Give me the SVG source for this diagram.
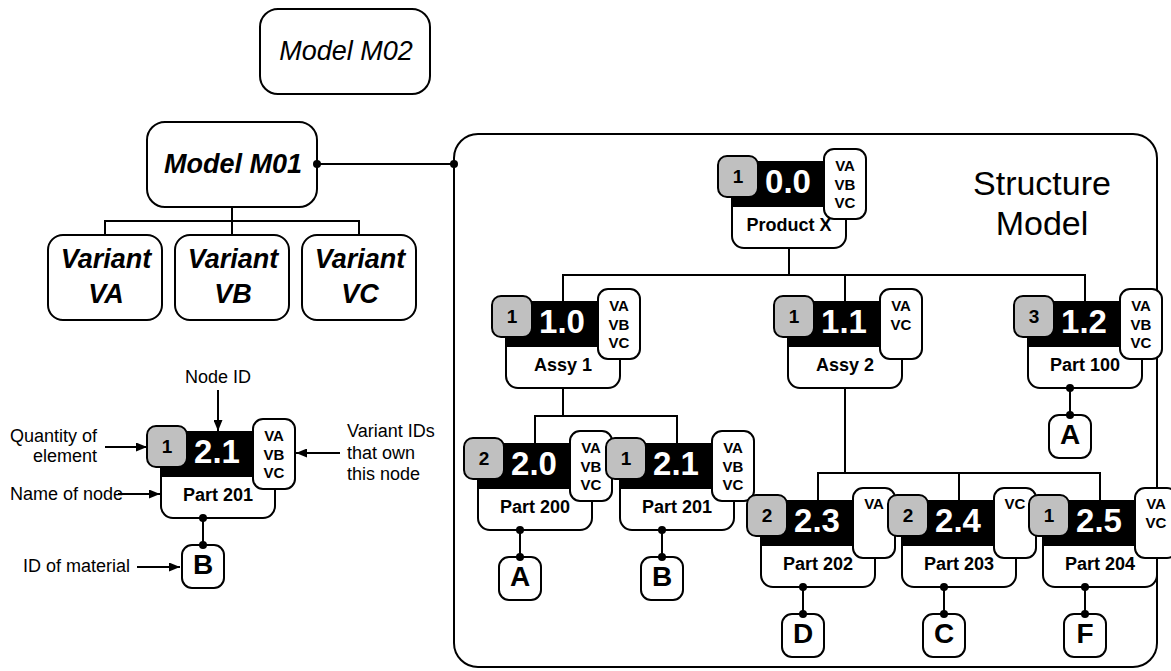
<svg xmlns="http://www.w3.org/2000/svg" width="1171" height="671" viewBox="0 0 1171 671">
<style>
.box{fill:#fff;stroke:#000;stroke-width:2}
.qty{fill:#c0c0c0;stroke:#000;stroke-width:2}
.bar{fill:#000}
.ln{stroke:#000;stroke-width:2;fill:none}
.dot{fill:#000}
text{font-family:"Liberation Sans",Arial,sans-serif;fill:#000}
.mt{font-size:27px;font-style:italic;text-anchor:middle}
.mtb{font-size:27px;font-style:italic;font-weight:bold;text-anchor:middle}
.q{font-size:19px;font-weight:bold;text-anchor:middle}
.id{font-size:33px;font-weight:bold;fill:#fff;text-anchor:middle}
.v{font-size:15px;font-weight:bold;text-anchor:middle}
.nm{font-size:18px;font-weight:bold;text-anchor:middle}
.mat{font-size:28px;font-weight:bold;text-anchor:middle}
.lg{font-size:18px}
.st{font-size:34px;text-anchor:middle}
</style>
<defs>
<marker id="ah" markerUnits="userSpaceOnUse" markerWidth="11" markerHeight="9" refX="11" refY="4.5" orient="auto">
<path d="M0,0 L11,4.5 L0,9 z" fill="#000"/>
</marker>
</defs>

<g id="model-m02">
<rect class="box" x="260" y="9" width="170" height="85" rx="18"/>
<text class="mt" x="346" y="60">Model M02</text>
</g>
<g id="model-m01">
<rect class="box" x="147" y="122" width="170" height="85" rx="18"/>
<text class="mtb" x="233" y="173">Model M01</text>
</g>
<g id="variant-va">
<rect class="box" x="48" y="235" width="114" height="85" rx="15"/>
<text class="mtb" x="106" y="268">Variant</text>
<text class="mtb" x="106" y="303">VA</text>
</g>
<g id="variant-vb">
<rect class="box" x="175" y="235" width="114" height="85" rx="15"/>
<text class="mtb" x="233" y="268">Variant</text>
<text class="mtb" x="233" y="303">VB</text>
</g>
<g id="variant-vc">
<rect class="box" x="302" y="235" width="114" height="85" rx="15"/>
<text class="mtb" x="360" y="268">Variant</text>
<text class="mtb" x="360" y="303">VC</text>
</g>

<g id="structure-model">
<rect class="box" x="454" y="134" width="703" height="533" rx="24"/>
<text class="st" x="1042" y="195">Structure</text>
<text class="st" x="1042" y="235">Model</text>
</g>

<g id="legend-node" transform="translate(161,432)">
<rect class="box" x="0" y="0" width="114" height="86" rx="12"/>
<rect class="bar" x="0" y="0" width="114" height="45"/>
<rect class="qty" x="-14" y="-6" width="40" height="41" rx="9"/>
<text class="q" x="6" y="21">1</text>
<text class="id" x="56" y="31">2.1</text>
<rect class="box" x="92" y="-13" width="42" height="70" rx="10"/>
<text class="v" x="113" y="9">VA</text><text class="v" x="113" y="28">VB</text><text class="v" x="113" y="46">VC</text>
<text class="nm" x="57" y="69">Part 201</text>
<rect class="box" x="21" y="113" width="42" height="43" rx="10"/>
<text class="mat" x="42" y="142">B</text>
</g>

<g id="node-0-0" transform="translate(732,162)">
<rect class="box" x="0" y="0" width="114" height="86" rx="12"/>
<rect class="bar" x="0" y="0" width="114" height="45"/>
<rect class="qty" x="-14" y="-6" width="40" height="41" rx="9"/>
<text class="q" x="6" y="21">1</text>
<text class="id" x="56" y="31">0.0</text>
<rect class="box" x="92" y="-13" width="42" height="70" rx="10"/>
<text class="v" x="113" y="9">VA</text><text class="v" x="113" y="28">VB</text><text class="v" x="113" y="46">VC</text>
<text class="nm" x="57" y="69">Product X</text>
</g>

<g id="node-1-0" transform="translate(506,302)">
<rect class="box" x="0" y="0" width="114" height="86" rx="12"/>
<rect class="bar" x="0" y="0" width="114" height="45"/>
<rect class="qty" x="-14" y="-6" width="40" height="41" rx="9"/>
<text class="q" x="6" y="21">1</text>
<text class="id" x="56" y="31">1.0</text>
<rect class="box" x="92" y="-13" width="42" height="70" rx="10"/>
<text class="v" x="113" y="9">VA</text><text class="v" x="113" y="28">VB</text><text class="v" x="113" y="46">VC</text>
<text class="nm" x="57" y="69">Assy 1</text>
</g>

<g id="node-1-1" transform="translate(788,302)">
<rect class="box" x="0" y="0" width="114" height="86" rx="12"/>
<rect class="bar" x="0" y="0" width="114" height="45"/>
<rect class="qty" x="-14" y="-6" width="40" height="41" rx="9"/>
<text class="q" x="6" y="21">1</text>
<text class="id" x="56" y="31">1.1</text>
<rect class="box" x="92" y="-13" width="42" height="70" rx="10"/>
<text class="v" x="113" y="9">VA</text><text class="v" x="113" y="28">VC</text>
<text class="nm" x="57" y="69">Assy 2</text>
</g>

<g id="node-1-2" transform="translate(1028,302)">
<rect class="box" x="0" y="0" width="114" height="86" rx="12"/>
<rect class="bar" x="0" y="0" width="114" height="45"/>
<rect class="qty" x="-14" y="-6" width="40" height="41" rx="9"/>
<text class="q" x="6" y="21">3</text>
<text class="id" x="56" y="31">1.2</text>
<rect class="box" x="92" y="-13" width="42" height="70" rx="10"/>
<text class="v" x="113" y="9">VA</text><text class="v" x="113" y="28">VB</text><text class="v" x="113" y="46">VC</text>
<text class="nm" x="57" y="69">Part 100</text>
<rect class="box" x="21" y="113" width="42" height="43" rx="10"/>
<text class="mat" x="42" y="142">A</text>
</g>

<g id="node-2-0" transform="translate(478,444)">
<rect class="box" x="0" y="0" width="114" height="86" rx="12"/>
<rect class="bar" x="0" y="0" width="114" height="45"/>
<rect class="qty" x="-14" y="-6" width="40" height="41" rx="9"/>
<text class="q" x="6" y="21">2</text>
<text class="id" x="56" y="31">2.0</text>
<rect class="box" x="92" y="-13" width="42" height="70" rx="10"/>
<text class="v" x="113" y="9">VA</text><text class="v" x="113" y="28">VB</text><text class="v" x="113" y="46">VC</text>
<text class="nm" x="57" y="69">Part 200</text>
<rect class="box" x="21" y="113" width="42" height="43" rx="10"/>
<text class="mat" x="42" y="142">A</text>
</g>

<g id="node-2-1" transform="translate(620,444)">
<rect class="box" x="0" y="0" width="114" height="86" rx="12"/>
<rect class="bar" x="0" y="0" width="114" height="45"/>
<rect class="qty" x="-14" y="-6" width="40" height="41" rx="9"/>
<text class="q" x="6" y="21">1</text>
<text class="id" x="56" y="31">2.1</text>
<rect class="box" x="92" y="-13" width="42" height="70" rx="10"/>
<text class="v" x="113" y="9">VA</text><text class="v" x="113" y="28">VB</text><text class="v" x="113" y="46">VC</text>
<text class="nm" x="57" y="69">Part 201</text>
<rect class="box" x="21" y="113" width="42" height="43" rx="10"/>
<text class="mat" x="42" y="142">B</text>
</g>

<g id="node-2-3" transform="translate(761,501)">
<rect class="box" x="0" y="0" width="114" height="86" rx="12"/>
<rect class="bar" x="0" y="0" width="114" height="45"/>
<rect class="qty" x="-14" y="-6" width="40" height="41" rx="9"/>
<text class="q" x="6" y="21">2</text>
<text class="id" x="56" y="31">2.3</text>
<rect class="box" x="92" y="-13" width="42" height="70" rx="10"/>
<text class="v" x="113" y="8">VA</text>
<text class="nm" x="57" y="69">Part 202</text>
<rect class="box" x="21" y="113" width="42" height="43" rx="10"/>
<text class="mat" x="42" y="142">D</text>
</g>

<g id="node-2-4" transform="translate(902,501)">
<rect class="box" x="0" y="0" width="114" height="86" rx="12"/>
<rect class="bar" x="0" y="0" width="114" height="45"/>
<rect class="qty" x="-14" y="-6" width="40" height="41" rx="9"/>
<text class="q" x="6" y="21">2</text>
<text class="id" x="56" y="31">2.4</text>
<rect class="box" x="92" y="-13" width="42" height="70" rx="10"/>
<text class="v" x="113" y="8">VC</text>
<text class="nm" x="57" y="69">Part 203</text>
<rect class="box" x="21" y="113" width="42" height="43" rx="10"/>
<text class="mat" x="42" y="142">C</text>
</g>

<g id="node-2-5" transform="translate(1043,501)">
<rect class="box" x="0" y="0" width="114" height="86" rx="12"/>
<rect class="bar" x="0" y="0" width="114" height="45"/>
<rect class="qty" x="-14" y="-6" width="40" height="41" rx="9"/>
<text class="q" x="6" y="21">1</text>
<text class="id" x="56" y="31">2.5</text>
<rect class="box" x="92" y="-13" width="42" height="70" rx="10"/>
<text class="v" x="113" y="8">VA</text><text class="v" x="113" y="27">VC</text>
<text class="nm" x="57" y="69">Part 204</text>
<rect class="box" x="21" y="113" width="42" height="43" rx="10"/>
<text class="mat" x="42" y="142">F</text>
</g>

<g id="connectors">
<path class="ln" d="M232,207 V221 M105,235 V221 H359 V235 M232,221 V235"/>
<path class="ln" d="M317,164 H454"/>
<circle class="dot" cx="317" cy="164" r="4"/>
<circle class="dot" cx="454" cy="164" r="4"/>
<path class="ln" d="M789,248 V275 M563,302 V275 H1085 V302 M845,275 V302"/>
<path class="ln" d="M563,388 V416 M535,444 V416 H677 V444"/>
<path class="ln" d="M845,388 V473 M818,501 V473 H1100 V501 M959,473 V501"/>
<g id="material-links">
<path class="ln" d="M203,518 V545 M1070,388 V415 M520,530 V557 M662,530 V557 M803,587 V614 M944,587 V614 M1085,587 V614"/>
<circle class="dot" cx="203" cy="518" r="4"/><circle class="dot" cx="203" cy="545" r="4"/>
<circle class="dot" cx="1070" cy="388" r="4"/><circle class="dot" cx="1070" cy="415" r="4"/>
<circle class="dot" cx="520" cy="530" r="4"/><circle class="dot" cx="520" cy="557" r="4"/>
<circle class="dot" cx="662" cy="530" r="4"/><circle class="dot" cx="662" cy="557" r="4"/>
<circle class="dot" cx="803" cy="587" r="4"/><circle class="dot" cx="803" cy="614" r="4"/>
<circle class="dot" cx="944" cy="587" r="4"/><circle class="dot" cx="944" cy="614" r="4"/>
<circle class="dot" cx="1085" cy="587" r="4"/><circle class="dot" cx="1085" cy="614" r="4"/>
</g>
</g>

<g id="legend-labels">
<text class="lg" x="218" y="383" text-anchor="middle">Node ID</text>
<text class="lg" x="97" y="442" text-anchor="end">Quantity of</text>
<text class="lg" x="97" y="462" text-anchor="end">element</text>
<text class="lg" x="347" y="437">Variant IDs</text>
<text class="lg" x="347" y="459">that own</text>
<text class="lg" x="347" y="480">this node</text>
<text class="lg" x="10" y="500">Name of node</text>
<text class="lg" x="23" y="572">ID of material</text>
<g id="legend-arrows">
<line class="ln" x1="218" y1="390" x2="218" y2="431" marker-end="url(#ah)"/>
<line class="ln" x1="105" y1="447" x2="147" y2="447" marker-end="url(#ah)"/>
<line class="ln" x1="340" y1="453" x2="296" y2="453" marker-end="url(#ah)"/>
<line class="ln" x1="118" y1="494" x2="160" y2="494" marker-end="url(#ah)"/>
<line class="ln" x1="137" y1="567" x2="180" y2="567" marker-end="url(#ah)"/>
</g>
</g>
</svg>
